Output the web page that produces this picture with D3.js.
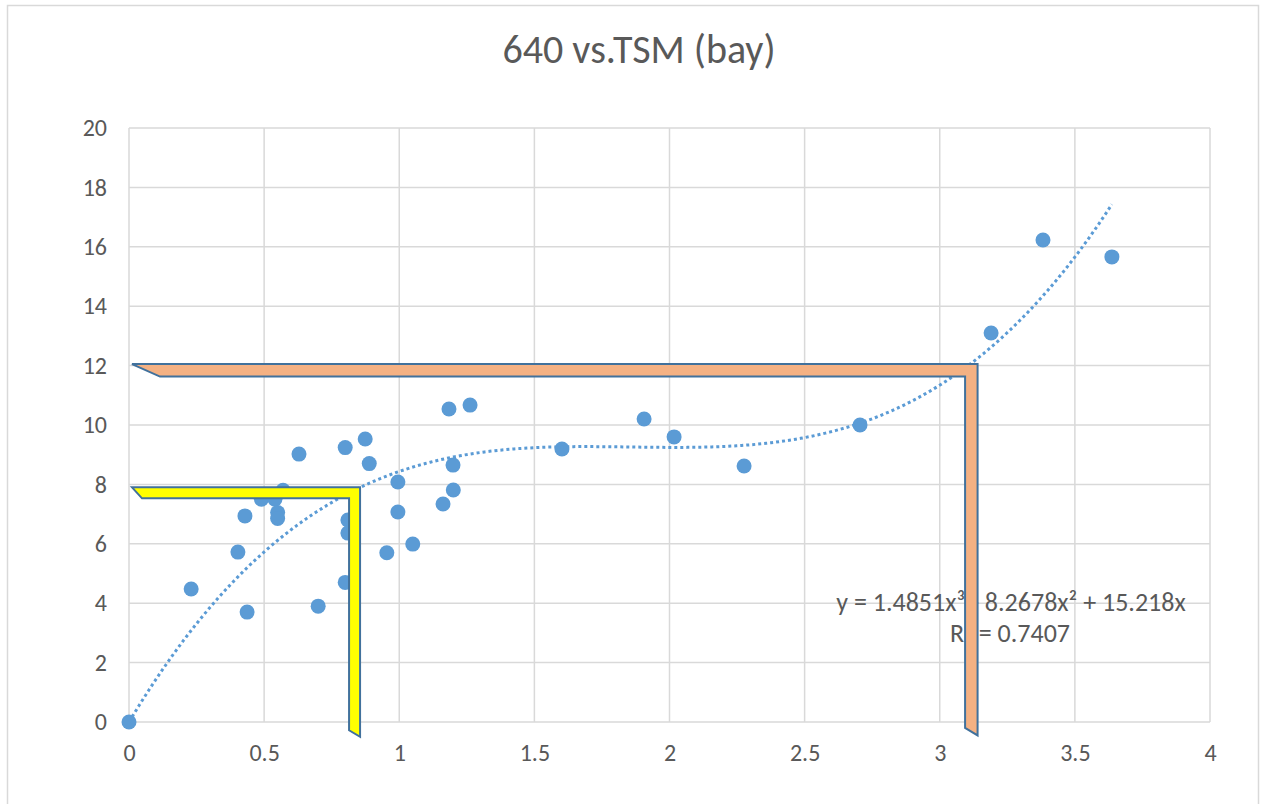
<!DOCTYPE html>
<html>
<head>
<meta charset="utf-8">
<script src="https://cdn.jsdelivr.net/npm/d3@7"></script>
<style>
  body { margin: 0; background: #fff; }
  text { font-family: Calibri, Carlito, "Open Sans", sans-serif; fill: #595959; }
</style>
</head>
<body>
<div id="chart"></div>
<script>
// chart size and plot margins
const width = 1263, height = 804;
const margin = { top: 128, right: 53, bottom: 82, left: 129 };

// data (TSM on x, 640 on y)
const tsm = [0, 0.23, 0.437, 0.403, 0.429, 0.49, 0.54, 0.55, 0.55, 0.57,
  0.629, 0.70, 0.80, 0.80, 0.81, 0.81, 0.874, 0.889, 0.954, 0.995, 0.995,
  1.05, 1.162, 1.184, 1.199, 1.2, 1.262, 1.602, 1.906, 2.017, 2.276,
  2.705, 3.19, 3.382, 3.637];
const v640 = [0, 4.48, 3.70, 5.72, 6.94, 7.5, 7.5, 7.05, 6.85, 7.8,
  9.02, 3.9, 4.7, 9.24, 6.8, 6.36, 9.53, 8.7, 5.7, 8.08, 7.07,
  5.99, 7.34, 10.54, 8.65, 7.81, 10.67, 9.19, 10.2, 9.6, 8.62,
  10.0, 13.1, 16.23, 15.66];

// poly trendline coefficients as printed in the chart (x^3, x^2, x, const)
const trendCoef = [1.4851, -8.2678, 15.218, 0];
const trendLabel = ["y = 1.4851x³ - 8.2678x² + 15.218x", "R² = 0.7407"];

const xTicks = [0, 0.5, 1, 1.5, 2, 2.5, 3, 3.5, 4];
const yTicks = [0, 2, 4, 6, 8, 10, 12, 14, 16, 18, 20];

const svg = d3.select("#chart").append("svg")
    .attr("width", width)
    .attr("height", height);

// outer chart frame
svg.append("rect")
    .attr("x", 7.5).attr("y", 5.5)
    .attr("width", 1251).attr("height", 820)
    .attr("fill", "#fff")
    .attr("stroke", "#d9d9d9")
    .attr("stroke-width", 1.5);

const x = d3.scaleLinear().domain([0, 4]).range([margin.left, width - margin.right]);
const y = d3.scaleLinear().domain([0, 20]).range([height - margin.bottom, margin.top]);

// title
svg.append("text")
    .attr("x", 639).attr("y", 63)
    .attr("text-anchor", "middle")
    .style("font-size", "40px")
    .text("640 vs.TSM (bay)");

// gridlines
svg.append("g").selectAll("line.h").data(yTicks).enter().append("line")
    .attr("x1", x(0)).attr("x2", x(4))
    .attr("y1", d => y(d)).attr("y2", d => y(d))
    .attr("stroke", "#d9d9d9").attr("stroke-width", 1.5);
svg.append("g").selectAll("line.v").data(xTicks).enter().append("line")
    .attr("x1", d => x(d)).attr("x2", d => x(d))
    .attr("y1", y(0)).attr("y2", y(20))
    .attr("stroke", "#d9d9d9").attr("stroke-width", 1.5);

// axes (labels only, Excel style)
const xAxis = svg.append("g")
    .attr("transform", `translate(0,${y(0)})`)
    .call(d3.axisBottom(x).tickValues(xTicks).tickSize(0).tickPadding(22).tickFormat(d3.format("")));
const yAxis = svg.append("g")
    .attr("transform", `translate(${x(0)},0)`)
    .call(d3.axisLeft(y).tickValues(yTicks).tickSize(0).tickPadding(22));
[xAxis, yAxis].forEach(a => {
    a.select(".domain").remove();
    a.selectAll("text").style("font-size", "24px").attr("fill", "#595959")
        .style("font-family", "Calibri, Carlito, 'Open Sans', sans-serif");
});

// points
const pts = tsm.map((t, i) => ({ x: t, y: v640[i] }));
svg.append("g").selectAll("circle").data(pts).enter().append("circle")
    .attr("cx", d => x(d.x))
    .attr("cy", d => y(d.y))
    .attr("r", 7.5)
    .attr("fill", "#5b9bd5");

// trendline, sampled from the fitted polynomial over the data range
const poly = t => trendCoef[0] * t * t * t + trendCoef[1] * t * t + trendCoef[2] * t + trendCoef[3];
const xs = d3.range(0, 200).map(i => i / 199 * d3.max(tsm));
const line = d3.line().x(d => x(d)).y(d => y(poly(d)));
svg.append("path")
    .attr("d", line(xs))
    .attr("fill", "none")
    .attr("stroke", "#5b9bd5")
    .attr("stroke-width", 3)
    .attr("stroke-dasharray", "3 3");

// trendline label
svg.append("text")
    .attr("x", 1011).attr("y", 611)
    .attr("text-anchor", "middle")
    .style("font-size", "26px")
    .text(trendLabel[0]);
svg.append("text")
    .attr("x", 1010).attr("y", 642)
    .attr("text-anchor", "middle")
    .style("font-size", "26px")
    .text(trendLabel[1]);

// L-shaped callout frames drawn on top (corner in data units, thickness in px)
const frames = [
    { xCorner: 3.14, yCorner: 12.05, yEnd: -0.45, t: 12.5, fill: "#f4b183", slant: 28 },
    { xCorner: 0.855, yCorner: 7.9, yEnd: -0.5, t: 11, fill: "#ffff00", slant: 10 }
];
frames.forEach(f => {
    const x0 = x(0) + 3, x1 = x(f.xCorner), y0 = y(f.yCorner), y1 = y(f.yEnd);
    const pts = [
        [x0, y0], [x1, y0], [x1, y1], [x1 - f.t, y1 - f.t * 0.6],
        [x1 - f.t, y0 + f.t], [x0 + f.slant, y0 + f.t]
    ];
    svg.append("path")
        .attr("d", "M" + pts.join("L") + "Z")
        .attr("fill", f.fill)
        .attr("stroke", "#41719c")
        .attr("stroke-width", 2)
        .attr("stroke-linejoin", "miter");
});
</script>
</body>
</html>
